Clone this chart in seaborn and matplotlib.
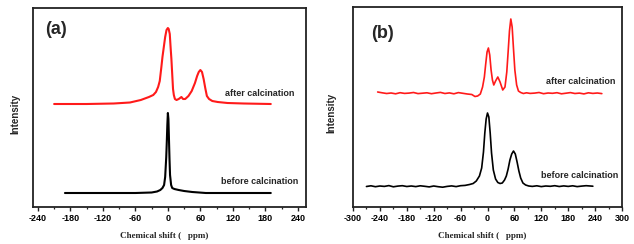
import matplotlib
matplotlib.use("Agg")
import matplotlib.pyplot as plt
import seaborn as sns
from matplotlib.ticker import MultipleLocator

# panel (a): chemical shift (ppm) and intensity (arb.)
a_before_x = [-190, -100, -60, -30, -20, -14, -10, -7, -5, -3, -2, -1, 0, 1, 2, 3, 4, 6, 8, 12, 20, 30, 45, 70, 120, 190]
a_before_y = [14, 14, 14, 14.5, 15.5, 17, 19, 22, 30, 50, 65, 82, 94, 88, 68, 48, 32, 22, 19, 18, 17, 16, 15, 14, 14, 14]

a_after_x = [-210, -150, -100, -70, -50, -35, -27, -22, -18, -15, -12, -10, -7.5, -5, -2.5,
             0, 1.5, 3.5, 5, 6.5, 8, 9.5, 11, 13, 16, 20, 25, 28, 32, 38,
             44, 50, 54, 57, 60, 63, 66, 69, 72, 76, 82, 92, 110, 140, 190]
a_after_y = [103, 103, 103.5, 104.5, 107, 110, 112, 115, 120, 126, 140, 150, 160, 170, 177,
             179, 178, 173, 160, 148, 133, 118, 112, 108, 107, 108, 110, 108, 108, 111,
             116, 124, 131, 135, 137, 135, 128, 119, 111, 108, 106, 105, 104, 103.5, 103]

# panel (b)
b_before_x = [-270, -260, -250, -240, -230, -220, -210, -200, -190, -180, -170, -160, -150, -140, -130, -120,
              -110, -100, -90, -80, -70, -60, -50, -40,
              -32, -25, -18, -13, -9, -6, -3, 0, 3, 6, 9, 13, 18, 23, 28, 33, 38, 42, 46, 50, 54, 58,
              62, 66, 70, 74, 79, 85, 92,
              100, 110, 120, 130, 140, 150, 160, 170, 180, 190, 200, 210, 220, 235]
b_before_y = [20.5, 21.2, 20.3, 21, 20.6, 21.4, 20.2, 20.9, 21.3, 20.5, 21, 20.4, 21.2, 20.7, 20.1, 21,
              20.3, 19.8, 20.6, 21.1, 20.4, 21.3, 21.6, 22.5,
              23.5, 26, 31, 39, 55, 74, 88, 94, 90, 74, 54, 37, 28, 24.5, 23.5, 24, 27, 31, 38, 47, 53, 56,
              53, 45, 36, 29, 24, 22, 21,
              20.6, 21.2, 20.4, 21, 20.7, 21.3, 20.5, 21.1, 20.6, 21.2, 20.4, 20.9, 21.3, 20.8]

b_after_x = [-245, -235, -225, -215, -205, -195, -185, -175, -165, -155, -145, -135, -125, -115, -105, -95,
             -85, -75, -65, -55, -45, -35,
             -28, -22, -16, -11, -7, -4, -1, 2, 5, 8, 11, 14, 18, 23, 28, 34, 39, 43, 46, 49, 52, 55,
             58, 61, 65, 69, 74, 80, 87, 95,
             105, 115, 125, 135, 145, 155, 165, 175, 185, 195, 205, 215, 225, 235, 245, 255]
b_after_y = [115, 114.2, 113.5, 114, 113.2, 114.3, 113.6, 113.9, 114.5, 113.4, 113.8, 114.2, 113.3, 114, 114.6, 113.5,
             114.1, 113.2, 114.4, 113.7, 113, 112.5,
             110.5, 111, 113, 120, 130, 143, 155, 159, 152, 137, 127, 122, 126, 130, 125, 117, 120, 135, 155, 176, 188, 180,
             158, 137, 122, 116, 114.5, 113.5, 114.2, 113.6,
             113.9, 114.5, 113.3, 114, 113.7, 114.3, 113.2, 113.8, 114.4, 113.5, 113.9, 113.1, 114.2, 113.6, 114, 113.4]

sns.set_style("ticks")
plt.rcParams["font.family"] = ["Liberation Sans", "DejaVu Sans"]
plt.rcParams["axes.unicode_minus"] = False

fig = plt.figure(figsize=(6.34, 2.44), dpi=100)
ax_a = fig.add_axes([33 / 634, 37 / 244, 273 / 634, 199 / 244])
ax_b = fig.add_axes([353 / 634, 37 / 244, 269 / 634, 200 / 244])

sns.lineplot(x=a_after_x, y=a_after_y, ax=ax_a, color="#ff1a1a", lw=1.5, sort=False)
sns.lineplot(x=a_before_x, y=a_before_y, ax=ax_a, color="black", lw=1.5, sort=False)
sns.lineplot(x=b_after_x, y=b_after_y, ax=ax_b, color="#ff1a1a", lw=1.2, sort=False)
sns.lineplot(x=b_before_x, y=b_before_y, ax=ax_b, color="black", lw=1.2, sort=False)

ax_a.set_xlim(-249, 255)
ax_a.set_ylim(0, 199)
ax_b.set_xlim(-300, 300)
ax_b.set_ylim(0, 200)

ax_a.text(105, 114, "after calcination", fontsize=6.5, fontweight="bold", va="center")
ax_a.text(98, 25, "before calcination", fontsize=6.5, fontweight="bold", va="center")
ax_b.text(131, 126, "after calcination", fontsize=6.5, fontweight="bold", va="center")
ax_b.text(119, 32, "before calcination", fontsize=6.5, fontweight="bold", va="center")

ax_a.text(0.044, 0.89, "(a)", transform=ax_a.transAxes, fontsize=13, fontweight="bold", va="center")
ax_b.text(0.067, 0.865, "(b)", transform=ax_b.transAxes, fontsize=13, fontweight="bold", va="center")

for ax in (ax_a, ax_b):
    ax.xaxis.set_major_locator(MultipleLocator(60))
    ax.xaxis.set_minor_locator(MultipleLocator(30))
    ax.set_yticks([])
    ax.tick_params(axis="x", which="major", length=3, width=1.0, labelsize=6.5, pad=2, colors="#222222")
    ax.tick_params(axis="x", which="minor", length=1.6, width=0.9, colors="#222222")
    for lab in ax.get_xticklabels():
        lab.set_fontweight("bold")
        lab.set_color("black")
    for sp in ax.spines.values():
        sp.set_visible(True)
        sp.set_linewidth(1.3)
        sp.set_color("#222222")
    ax.set_ylabel("Intensity", fontsize=7, fontweight="bold")
    ax.set_xlabel("Chemical shift (   ppm)", fontsize=6.5, fontweight="bold", family="Liberation Serif")

ax_a.yaxis.set_label_coords(-0.048, 0.47)
ax_b.yaxis.set_label_coords(-0.06, 0.47)
ax_a.xaxis.set_label_coords(0.48, -0.126)
ax_b.xaxis.set_label_coords(0.48, -0.126)

fig.savefig("out.png", dpi=100)
